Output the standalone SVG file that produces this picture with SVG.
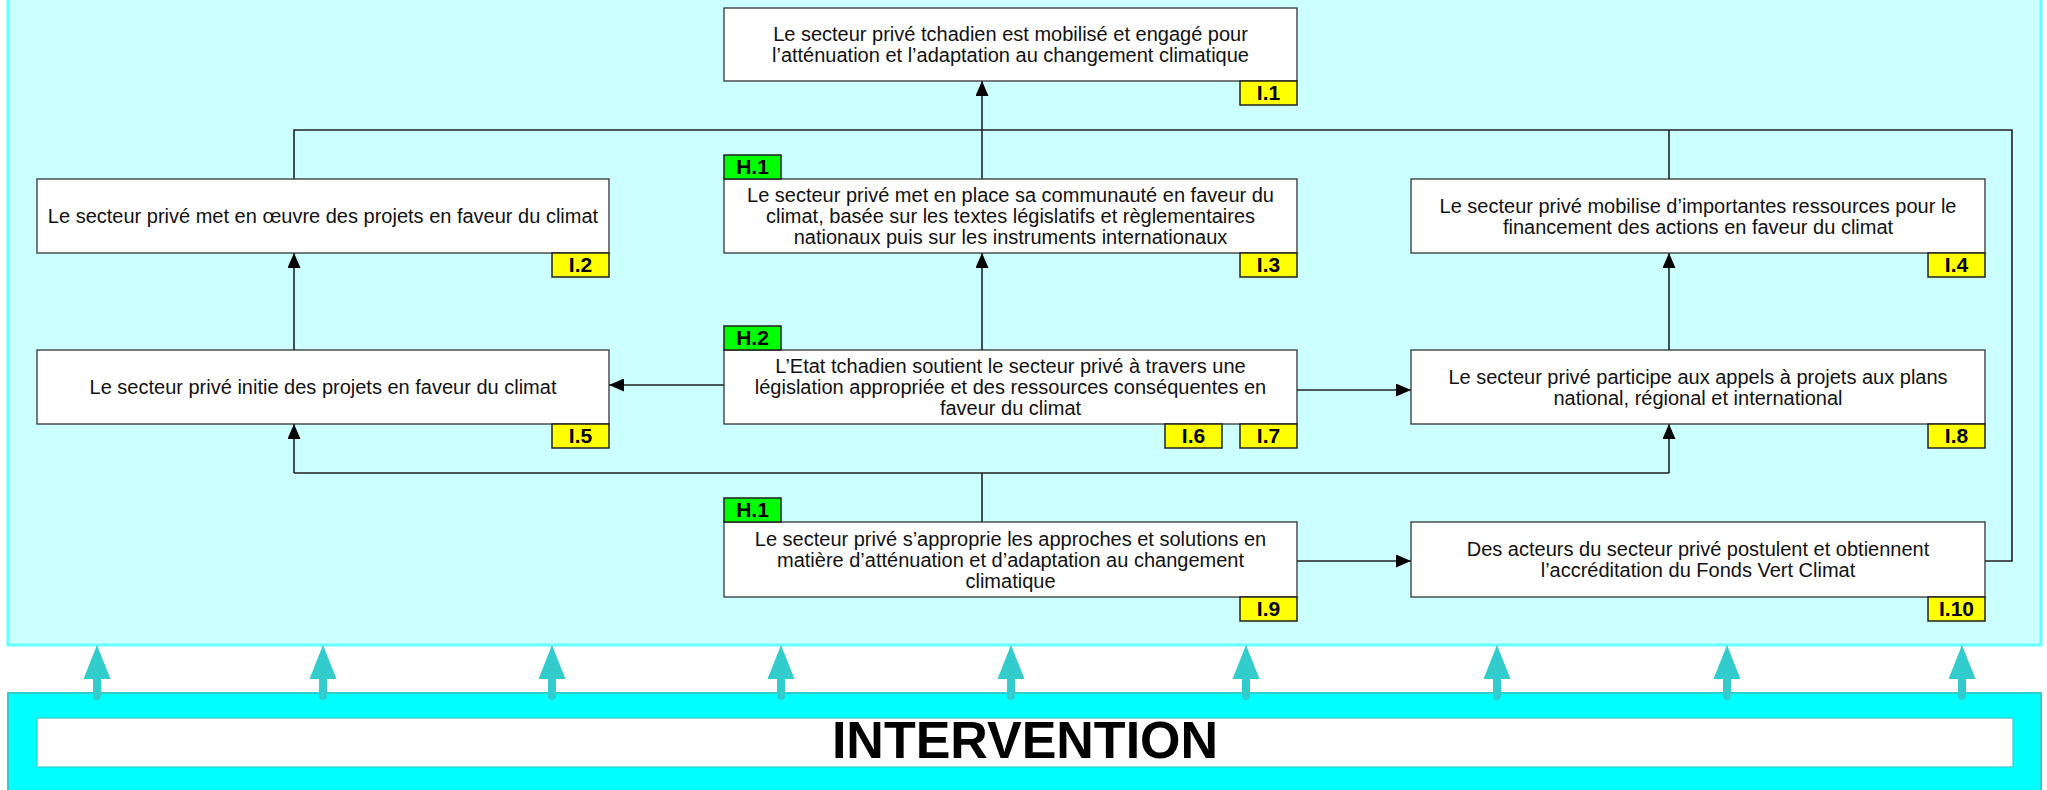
<svg xmlns="http://www.w3.org/2000/svg" width="2047" height="790" viewBox="0 0 2047 790">
<defs>
<marker id="ah" markerUnits="userSpaceOnUse" markerWidth="16" markerHeight="13" refX="15" refY="6.5" orient="auto"><path d="M0,0 L15,6.5 L0,13 z" fill="#000"/></marker>
<g id="ia"><line x1="0" y1="30" x2="0" y2="51" stroke="#33cccc" stroke-width="8" stroke-linecap="round"/><polygon points="0,0 13.5,34 -13.5,34" fill="#33cccc"/></g>
</defs>
<style>
.box{fill:#fff;stroke:#333;stroke-width:1.3}
.t{font-family:"Liberation Sans",Arial,sans-serif;font-size:20px;fill:#111;text-anchor:middle}
.iy{fill:#ffff00;stroke:#222;stroke-width:1.5}
.hg{fill:#00ff00;stroke:#222;stroke-width:1.5}
.tg{font-family:"Liberation Sans",Arial,sans-serif;font-size:21px;font-weight:bold;text-anchor:middle;fill:#000}
.c{fill:none;stroke:#222;stroke-width:1.6}
.ca{fill:none;stroke:#222;stroke-width:1.6;marker-end:url(#ah)}
</style>
<rect width="2047" height="790" fill="#fff"/>
<rect id="panel" x="8" y="-4" width="2033" height="649" fill="#ccffff" stroke="#66ffff" stroke-width="3"/>

<g id="intervention">
<rect x="8" y="693" width="2033" height="100" fill="#00ffff" stroke="#33cccc" stroke-width="2"/>
<rect x="37" y="718" width="1976" height="49" fill="#fff" stroke="#33cccc" stroke-width="1.2"/>
<text x="1025" y="758" font-family="'Liberation Sans',Arial,sans-serif" font-size="52" font-weight="bold" text-anchor="middle" fill="#000">INTERVENTION</text>
</g>
<g id="intervention-arrows">
<use href="#ia" transform="translate(97,645)"/>
<use href="#ia" transform="translate(323,645)"/>
<use href="#ia" transform="translate(552,645)"/>
<use href="#ia" transform="translate(781,645)"/>
<use href="#ia" transform="translate(1011,645)"/>
<use href="#ia" transform="translate(1246,645)"/>
<use href="#ia" transform="translate(1497,645)"/>
<use href="#ia" transform="translate(1727,645)"/>
<use href="#ia" transform="translate(1962,645)"/>
</g>

<g id="connectors">
<path class="ca" d="M982,179 V81"/>
<path class="c" d="M294,179 V130 H2012 V561 H1985"/>
<path class="c" d="M1669,179 V130"/>
<path class="ca" d="M294,350 V253"/>
<path class="ca" d="M724,385 H609"/>
<path class="ca" d="M982,350 V253"/>
<path class="ca" d="M1297,390 H1411"/>
<path class="c" d="M982,522 V473 M294,473 H1669"/>
<path class="ca" d="M294,473 V424"/>
<path class="ca" d="M1669,473 V424"/>
<path class="ca" d="M1297,561 H1411"/>
<path class="ca" d="M1669,350 V253"/>
</g>

<g id="I1">
<rect class="box" x="724" y="8" width="573" height="73"/>
<text class="t"><tspan x="1010.5" y="41">Le secteur privé tchadien est mobilisé et engagé pour</tspan><tspan x="1010.5" y="62">l’atténuation et l’adaptation au changement climatique</tspan></text>
<rect class="iy" x="1240" y="81" width="57" height="24"/><text class="tg" x="1268.5" y="100">I.1</text>
</g>

<g id="I2">
<rect class="box" x="37" y="179" width="572" height="74"/>
<text class="t" x="323" y="223">Le secteur privé met en œuvre des projets en faveur du climat</text>
<rect class="iy" x="552" y="253" width="57" height="24"/><text class="tg" x="580.5" y="272">I.2</text>
</g>

<g id="I3">
<rect class="box" x="724" y="179" width="573" height="74"/>
<text class="t"><tspan x="1010.5" y="202">Le secteur privé met en place sa communauté en faveur du</tspan><tspan x="1010.5" y="223">climat, basée sur les textes législatifs et règlementaires</tspan><tspan x="1010.5" y="244">nationaux puis sur les instruments internationaux</tspan></text>
<rect class="hg" x="724" y="155" width="57" height="24"/><text class="tg" x="752.5" y="174">H.1</text>
<rect class="iy" x="1240" y="253" width="57" height="24"/><text class="tg" x="1268.5" y="272">I.3</text>
</g>

<g id="I4">
<rect class="box" x="1411" y="179" width="574" height="74"/>
<text class="t"><tspan x="1698" y="212.5">Le secteur privé mobilise d’importantes ressources pour le</tspan><tspan x="1698" y="233.5">financement des actions en faveur du climat</tspan></text>
<rect class="iy" x="1928" y="253" width="57" height="24"/><text class="tg" x="1956.5" y="272">I.4</text>
</g>

<g id="I5">
<rect class="box" x="37" y="350" width="572" height="74"/>
<text class="t" x="323" y="394">Le secteur privé initie des projets en faveur du climat</text>
<rect class="iy" x="552" y="424" width="57" height="24"/><text class="tg" x="580.5" y="443">I.5</text>
</g>

<g id="I6-I7">
<rect class="box" x="724" y="350" width="573" height="74"/>
<text class="t"><tspan x="1010.5" y="373">L’Etat tchadien soutient le secteur privé à travers une</tspan><tspan x="1010.5" y="394">législation appropriée et des ressources conséquentes en</tspan><tspan x="1010.5" y="415">faveur du climat</tspan></text>
<rect class="hg" x="724" y="326" width="57" height="24"/><text class="tg" x="752.5" y="345">H.2</text>
<rect class="iy" x="1165" y="424" width="57" height="24"/><text class="tg" x="1193.5" y="443">I.6</text>
<rect class="iy" x="1240" y="424" width="57" height="24"/><text class="tg" x="1268.5" y="443">I.7</text>
</g>

<g id="I8">
<rect class="box" x="1411" y="350" width="574" height="74"/>
<text class="t"><tspan x="1698" y="383.5">Le secteur privé participe aux appels à projets aux plans</tspan><tspan x="1698" y="404.5">national, régional et international</tspan></text>
<rect class="iy" x="1928" y="424" width="57" height="24"/><text class="tg" x="1956.5" y="443">I.8</text>
</g>

<g id="I9">
<rect class="box" x="724" y="522" width="573" height="75"/>
<text class="t"><tspan x="1010.5" y="545.5">Le secteur privé s’approprie les approches et solutions en</tspan><tspan x="1010.5" y="566.5">matière d’atténuation et d’adaptation au changement</tspan><tspan x="1010.5" y="587.5">climatique</tspan></text>
<rect class="hg" x="724" y="498" width="57" height="24"/><text class="tg" x="752.5" y="517">H.1</text>
<rect class="iy" x="1240" y="597" width="57" height="24"/><text class="tg" x="1268.5" y="616">I.9</text>
</g>

<g id="I10">
<rect class="box" x="1411" y="522" width="574" height="75"/>
<text class="t"><tspan x="1698" y="556">Des acteurs du secteur privé postulent et obtiennent</tspan><tspan x="1698" y="577">l’accréditation du Fonds Vert Climat</tspan></text>
<rect class="iy" x="1928" y="597" width="57" height="24"/><text class="tg" x="1956.5" y="616">I.10</text>
</g>
</svg>
